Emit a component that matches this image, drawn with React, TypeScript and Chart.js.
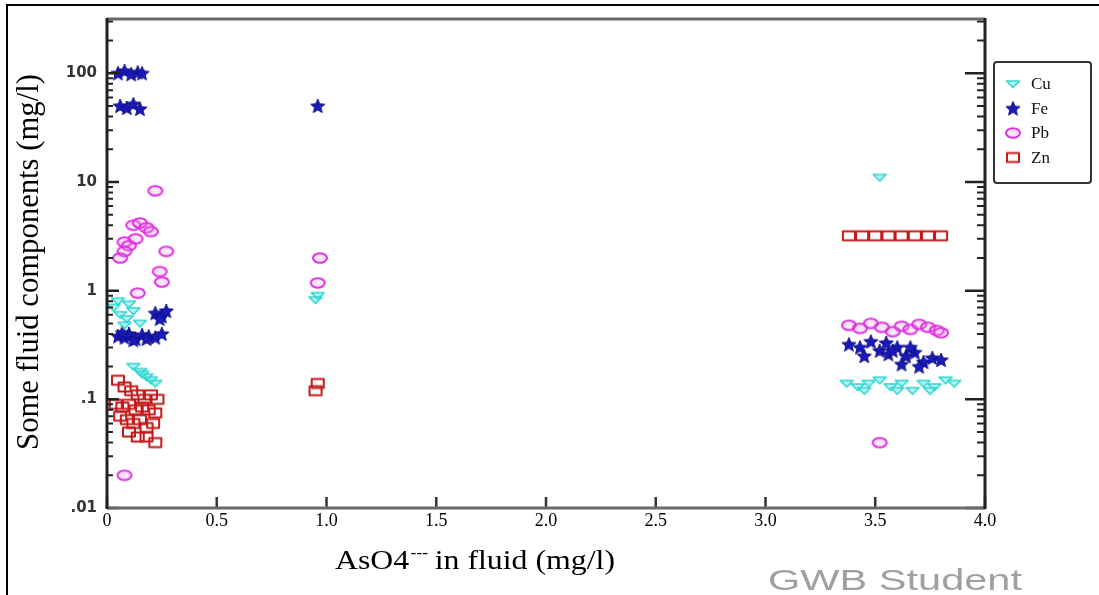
import React, { useEffect, useRef } from "react";
import { Chart, registerables } from "chart.js";

Chart.register(...registerables);

// ---- data ----
const xTickValues = [0, 0.5, 1, 1.5, 2, 2.5, 3, 3.5, 4];
const xTickLabels = ["0", "0.5", "1.0", "1.5", "2.0", "2.5", "3.0", "3.5", "4.0"];
const yTickValues = [0.01, 0.1, 1, 10, 100];
const yTickLabels = [".01", ".1", "1", "10", "100"];
const seriesNames = ["Cu", "Fe", "Pb", "Zn"];

const cuX = [0.03, 0.06, 0.09, 0.12, 0.15, 0.05, 0.1, 0.08, 0.12, 0.15, 0.18, 0.2, 0.22, 0.16, 0.96, 0.95, 3.52, 3.37, 3.42, 3.47, 3.52, 3.57, 3.62, 3.67, 3.72, 3.77, 3.82, 3.86, 3.45, 3.6, 3.75];
const cuY = [0.7, 0.6, 0.55, 0.65, 0.5, 0.8, 0.75, 0.48, 0.2, 0.18, 0.16, 0.15, 0.14, 0.17, 0.9, 0.82, 11, 0.14, 0.13, 0.14, 0.15, 0.13, 0.14, 0.12, 0.14, 0.13, 0.15, 0.14, 0.12, 0.12, 0.12];

const feX = [0.05, 0.08, 0.11, 0.14, 0.16, 0.06, 0.09, 0.12, 0.15, 0.22, 0.25, 0.27, 0.24, 0.05, 0.08, 0.1, 0.13, 0.16, 0.19, 0.22, 0.25, 0.07, 0.12, 0.18, 0.96, 3.38, 3.43, 3.48, 3.52, 3.56, 3.6, 3.64, 3.68, 3.72, 3.76, 3.8, 3.45, 3.55, 3.62, 3.7, 3.58, 3.66];
const feY = [100, 105, 98, 102, 100, 50, 48, 52, 47, 0.62, 0.58, 0.65, 0.55, 0.38, 0.37, 0.4, 0.36, 0.39, 0.38, 0.37, 0.4, 0.41, 0.35, 0.36, 50, 0.32, 0.3, 0.34, 0.28, 0.26, 0.3, 0.25, 0.27, 0.22, 0.24, 0.23, 0.25, 0.33, 0.21, 0.2, 0.28, 0.3];

const pbX = [0.22, 0.12, 0.15, 0.18, 0.2, 0.08, 0.1, 0.13, 0.06, 0.08, 0.27, 0.24, 0.25, 0.14, 0.08, 0.97, 0.96, 3.38, 3.43, 3.48, 3.53, 3.58, 3.62, 3.66, 3.7, 3.74, 3.78, 3.8, 3.52];
const pbY = [8.3, 4.0, 4.2, 3.8, 3.5, 2.8, 2.6, 3.0, 2.0, 2.3, 2.3, 1.5, 1.2, 0.95, 0.02, 2.0, 1.18, 0.48, 0.45, 0.5, 0.46, 0.42, 0.47, 0.44, 0.49, 0.46, 0.43, 0.41, 0.04];

const znX = [0.05, 0.08, 0.11, 0.14, 0.17, 0.2, 0.23, 0.04, 0.07, 0.1, 0.13, 0.16, 0.19, 0.22, 0.06, 0.09, 0.12, 0.15, 0.18, 0.21, 0.1, 0.14, 0.18, 0.22, 0.96, 0.95, 3.38, 3.44, 3.5, 3.56, 3.62, 3.68, 3.74, 3.8];
const znY = [0.15, 0.13, 0.12, 0.11, 0.1, 0.11, 0.1, 0.09, 0.085, 0.09, 0.08, 0.085, 0.08, 0.075, 0.07, 0.065, 0.06, 0.065, 0.055, 0.06, 0.05, 0.045, 0.045, 0.04, 0.14, 0.12, 3.2, 3.2, 3.2, 3.2, 3.2, 3.2, 3.2, 3.2];

const xTitleMain = "AsO4";
const xTitleSup = "---";
const xTitleRest = " in fluid (mg/l)";
const yTitle = "Some fluid components (mg/l)";
const watermark = "GWB Student";

// ---- marker images ----
function makeMarker(kind: string): HTMLCanvasElement {
  const c = document.createElement("canvas");
  const w = 18;
  const h = 16;
  c.width = w;
  c.height = h;
  const g = c.getContext("2d") as CanvasRenderingContext2D;
  const cx = w / 2;
  const cy = h / 2;
  g.lineJoin = "round";
  if (kind === "Cu") {
    g.beginPath();
    g.moveTo(cx - 6.5, cy - 3);
    g.lineTo(cx + 6.5, cy - 3);
    g.lineTo(cx, cy + 3.5);
    g.closePath();
    g.fillStyle = "rgba(90,230,225,0.45)";
    g.fill();
    g.strokeStyle = "#2fd4d0";
    g.lineWidth = 1.6;
    g.stroke();
  } else if (kind === "Fe") {
    g.beginPath();
    for (let i = 0; i < 10; i++) {
      const r = i % 2 === 0 ? 7.5 : 3.3;
      const a = -Math.PI / 2 + (i * Math.PI) / 5;
      const px = cx + r * Math.cos(a);
      const py = cy + 0.5 + r * Math.sin(a);
      if (i === 0) g.moveTo(px, py);
      else g.lineTo(px, py);
    }
    g.closePath();
    g.fillStyle = "#1a1ab8";
    g.fill();
    g.strokeStyle = "#10108a";
    g.lineWidth = 1;
    g.stroke();
  } else if (kind === "Pb") {
    g.beginPath();
    g.ellipse(cx, cy, 7, 4.8, 0, 0, Math.PI * 2);
    g.fillStyle = "rgba(240,150,240,0.25)";
    g.fill();
    g.strokeStyle = "#dd30dd";
    g.lineWidth = 2;
    g.stroke();
  } else {
    g.strokeStyle = "#c41a1a";
    g.lineWidth = 2;
    g.strokeRect(cx - 6, cy - 4.5, 12, 9);
  }
  return c;
}

function fitFontSize(ctx: CanvasRenderingContext2D, text: string, family: string, target: number, weight = "normal"): number {
  ctx.font = `${weight} 100px ${family}`;
  const w = ctx.measureText(text).width;
  return (100 * target) / w;
}

const framePlugin = {
  id: "framePlugin",
  afterDraw(chart: any) {
    const ctx: CanvasRenderingContext2D = chart.ctx;
    const { left, right, top, bottom } = chart.chartArea;
    const ys = chart.scales.y;
    const xs = chart.scales.x;
    ctx.save();
    // outer frame (top and left)
    ctx.strokeStyle = "#000";
    ctx.lineWidth = 2;
    ctx.beginPath();
    ctx.moveTo(7, 600);
    ctx.lineTo(7, 5);
    ctx.lineTo(1105, 5);
    ctx.stroke();

    // y ticks (left and right, inward)
    ctx.strokeStyle = "#222";
    for (let d = -2; d <= 2; d++) {
      for (let m = 1; m <= 9; m++) {
        const v = m * Math.pow(10, d);
        if (v > ys.max) break;
        const py = ys.getPixelForValue(v);
        const major = m === 1;
        ctx.lineWidth = major ? 2.5 : 2;
        const lenL = major ? 12 : 6;
        const lenR = major ? 20 : 8;
        ctx.beginPath();
        ctx.moveTo(left, py);
        ctx.lineTo(left + lenL, py);
        ctx.moveTo(right, py);
        ctx.lineTo(right - lenR, py);
        ctx.stroke();
      }
    }
    // x ticks (inward)
    ctx.strokeStyle = "#333";
    ctx.lineWidth = 2.5;
    for (const v of xTickValues) {
      const px = xs.getPixelForValue(v);
      ctx.beginPath();
      ctx.moveTo(px, bottom);
      ctx.lineTo(px, bottom - 11);
      ctx.stroke();
    }
    // axis lines
    ctx.lineWidth = 3;
    ctx.strokeStyle = "#6a6a6a";
    ctx.beginPath();
    ctx.moveTo(left, top);
    ctx.lineTo(right, top);
    ctx.moveTo(left, bottom);
    ctx.lineTo(right, bottom);
    ctx.stroke();
    ctx.strokeStyle = "#222";
    ctx.beginPath();
    ctx.moveTo(left, top - 1);
    ctx.lineTo(left, bottom + 1);
    ctx.moveTo(right, top - 1);
    ctx.lineTo(right, bottom + 1);
    ctx.stroke();
    ctx.restore();
  },
};

const textPlugin = {
  id: "textPlugin",
  afterDraw(chart: any) {
    const ctx: CanvasRenderingContext2D = chart.ctx;
    const serif = "'Liberation Serif', 'Times New Roman', serif";
    ctx.save();
    ctx.fillStyle = "#000";

    // y title
    const ySize = fitFontSize(ctx, yTitle, serif, 376);
    ctx.save();
    ctx.translate(30, 262);
    ctx.rotate(-Math.PI / 2);
    ctx.font = `${ySize}px ${serif}`;
    ctx.textAlign = "center";
    ctx.textBaseline = "middle";
    ctx.fillText(yTitle, 0, 0);
    ctx.restore();

    // x title
    const xs = 24;
    ctx.textAlign = "left";
    ctx.textBaseline = "alphabetic";
    ctx.font = `${xs}px ${serif}`;
    const wMain = ctx.measureText(xTitleMain).width;
    ctx.font = `bold ${xs * 0.55}px ${serif}`;
    const wSup = ctx.measureText(xTitleSup).width;
    ctx.font = `${xs}px ${serif}`;
    const wRest = ctx.measureText(xTitleRest).width;
    const total = wMain + wSup + wRest;
    const sx = 280 / total;
    ctx.save();
    ctx.translate(335, 569);
    ctx.scale(sx, 1.1);
    ctx.font = `${xs}px ${serif}`;
    ctx.fillText(xTitleMain, 0, 0);
    ctx.font = `bold ${xs * 0.55}px ${serif}`;
    ctx.fillText(xTitleSup, wMain + 1, -11);
    ctx.font = `${xs}px ${serif}`;
    ctx.fillText(xTitleRest, wMain + wSup, 0);
    ctx.restore();

    // watermark
    ctx.save();
    ctx.font = `30px 'Liberation Sans', Arial, sans-serif`;
    const ww = ctx.measureText(watermark).width;
    ctx.translate(768, 590);
    ctx.scale(254 / ww, 1);
    ctx.fillStyle = "#a0a0a0";
    ctx.fillText(watermark, 0, 0);
    ctx.restore();

    // legend
    const bx = 994;
    const by = 62;
    const bw = 97;
    const bh = 121;
    ctx.strokeStyle = "#333";
    ctx.lineWidth = 2;
    ctx.beginPath();
    if ((ctx as any).roundRect) (ctx as any).roundRect(bx, by, bw, bh, 3);
    else ctx.rect(bx, by, bw, bh);
    ctx.stroke();
    ctx.font = `17px ${serif}`;
    ctx.textBaseline = "middle";
    ctx.fillStyle = "#111";
    chart.data.datasets.forEach((ds: any, i: number) => {
      const cy = by + 22 + i * 24.5;
      const m = ds.pointStyle as HTMLCanvasElement;
      if (m && m.width) ctx.drawImage(m, 1013 - m.width / 2, cy - m.height / 2);
      ctx.fillText(ds.label, 1031, cy + 1);
    });
    ctx.restore();
  },
};

export default function App() {
  const ref = useRef<HTMLCanvasElement | null>(null);

  useEffect(() => {
    const canvas = ref.current;
    if (!canvas) return;
    const xsArr = [cuX, feX, pbX, znX];
    const ysArr = [cuY, feY, pbY, znY];
    const datasets = seriesNames.map((name, k) => ({
      label: name,
      data: xsArr[k].map((x, i) => ({ x, y: ysArr[k][i] })),
      pointStyle: makeMarker(name) as any,
      pointRadius: 7,
      showLine: false,
    }));
    const chart = new Chart(canvas, {
      type: "scatter",
      data: { datasets },
      options: {
        animation: false,
        responsive: false,
        devicePixelRatio: 1,
        layout: { padding: { top: 15, right: 114, left: 0, bottom: 0 } },
        plugins: {
          legend: { display: false },
          tooltip: { enabled: false },
          title: { display: false },
        },
        scales: {
          x: {
            type: "linear",
            min: 0,
            max: 4,
            afterFit: (s: any) => {
              s.height = 87;
            },
            afterBuildTicks: (s: any) => {
              s.ticks = xTickValues.map((v) => ({ value: v }));
            },
            ticks: {
              autoSkip: false,
              maxRotation: 0,
              padding: 2,
              color: "#000",
              font: { family: "'Liberation Serif', serif", size: 18 },
              callback: (_v: any, i: number) => xTickLabels[i],
            },
            grid: { display: false, drawTicks: false },
            border: { display: false },
          },
          y: {
            type: "logarithmic",
            min: 0.01,
            max: 316.2,
            afterFit: (s: any) => {
              s.width = 107;
            },
            afterBuildTicks: (s: any) => {
              s.ticks = yTickValues.map((v) => ({ value: v }));
            },
            ticks: {
              autoSkip: false,
              padding: 10,
              color: "#333",
              font: { family: "'DejaVu Sans', sans-serif", size: 15, weight: "bold" },
              callback: (_v: any, i: number) => yTickLabels[i],
            },
            grid: { display: false, drawTicks: false },
            border: { display: false },
          },
        },
      },
      plugins: [framePlugin, textPlugin],
    } as any);
    return () => {
      chart.destroy();
    };
  }, []);

  return (
    <div style={{ position: "absolute", left: 0, top: 0, width: 1099, height: 595, background: "#fff" }}>
      <canvas ref={ref} width={1099} height={595} style={{ display: "block", width: 1099, height: 595 }} />
    </div>
  );
}
